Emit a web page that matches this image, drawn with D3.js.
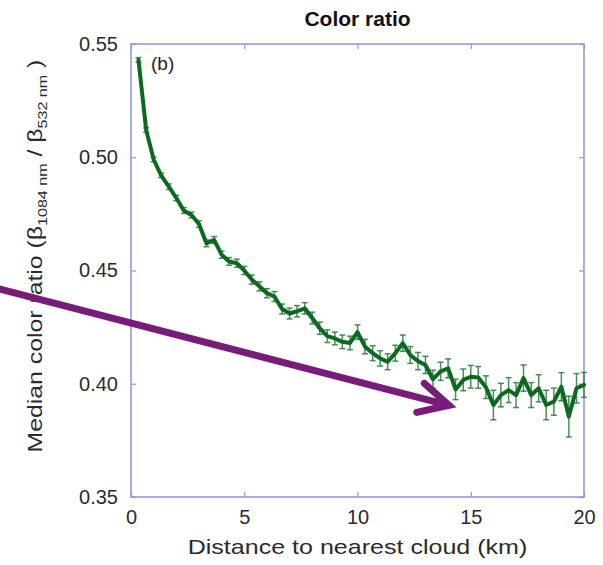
<!DOCTYPE html>
<html><head><meta charset="utf-8">
<script src="https://cdn.jsdelivr.net/npm/d3@7/dist/d3.min.js"></script>
<style>body{margin:0;background:#fff}svg{display:block}</style>
</head><body>
<svg id="c" width="603" height="565"></svg>
<script>
// ---- data ----
const distance = [0.33,0.67,1.00,1.33,1.67,2.00,2.33,2.67,3.00,3.33,
  3.67,4.00,4.33,4.67,5.00,5.33,5.67,6.00,6.33,6.67,
  7.00,7.33,7.67,8.00,8.33,8.67,9.00,9.33,9.67,10.00,
  10.33,10.67,11.00,11.33,11.67,12.00,12.33,12.67,13.00,13.33,
  13.67,14.00,14.33,14.67,15.00,15.33,15.67,16.00,16.33,16.67,
  17.00,17.33,17.67,18.00,18.33,18.67,19.00,19.33,19.67,20.00];
const colorRatio = [0.543,0.512,0.499,0.492,0.487,0.482,0.4765,0.4745,0.4705,0.462,
  0.4635,0.457,0.454,0.4532,0.450,0.446,0.443,0.440,0.4385,0.433,
  0.431,0.432,0.4333,0.429,0.4245,0.421,0.420,0.4185,0.418,0.4228,
  0.4164,0.4135,0.4112,0.4097,0.4135,0.4179,0.4127,0.4100,0.4083,0.4020,
  0.4055,0.4068,0.3975,0.4017,0.4031,0.4028,0.3985,0.3906,0.3950,0.3972,
  0.3950,0.4025,0.3950,0.3980,0.3906,0.3921,0.3987,0.3855,0.3980,0.3995];
const errorHalf = [0.001,0.001,0.001,0.001,0.0012,0.0012,0.0013,0.0013,0.0014,0.0015,
  0.0015,0.0016,0.0017,0.0018,0.0018,0.002,0.002,0.002,0.0022,0.0022,
  0.0024,0.0025,0.0025,0.0026,0.0027,0.0028,0.0028,0.003,0.003,0.0032,
  0.0032,0.0033,0.0034,0.0035,0.0035,0.0036,0.0037,0.0038,0.0038,0.004,
  0.004,0.0042,0.0045,0.0048,0.005,0.0048,0.005,0.0065,0.0052,0.0055,
  0.0055,0.0058,0.0055,0.006,0.0065,0.006,0.0062,0.009,0.0065,0.0055];
const xTicks = [0,5,10,15,20];
const xTickLabels = ["0","5","10","15","20"];
const yTicks = [0.35,0.40,0.45,0.50,0.55];
const yTickLabels = ["0.35","0.40","0.45","0.50","0.55"];
const titleText = "Color ratio";
const xLabelText = "Distance to nearest cloud (km)";
const panelLabel = "(b)";
// annotation arrow in data coordinates [km, ratio]
const arrowFrom = [-5.78, 0.4418];
const arrowTo = [14.04, 0.3905];

// ---- layout ----
const L = 131, R = 584, T = 44, B = 497;
const FONT = "'Liberation Sans', Arial, Helvetica, sans-serif";
const frameColor = "#9393dd";
const svg = d3.select("#c");
const x = d3.scaleLinear().domain([0,20]).range([L,R]);
const y = d3.scaleLinear().domain([0.35,0.55]).range([B,T]);

// frame
svg.append("rect").attr("x",L).attr("y",T).attr("width",R-L).attr("height",B-T)
  .attr("fill","none").attr("stroke",frameColor).attr("stroke-width",1.5);

function styleAxis(g, showText){
  g.select(".domain").remove();
  g.selectAll(".tick line").attr("stroke",frameColor).attr("stroke-width",1.2);
  g.selectAll(".tick text").attr("fill","#2b2b2b").style("font-family",FONT).style("font-size","20px");
  if(!showText) g.selectAll(".tick text").remove();
}
const xb = svg.append("g").attr("transform",`translate(0,${B})`)
  .call(d3.axisBottom(x).tickValues(xTicks).tickFormat((d,i)=>xTickLabels[i]).tickSize(-5).tickPadding(13));
styleAxis(xb,true);
const xt = svg.append("g").attr("transform",`translate(0,${T})`)
  .call(d3.axisTop(x).tickValues(xTicks).tickSize(-5));
styleAxis(xt,false);
const yl = svg.append("g").attr("transform",`translate(${L},0)`)
  .call(d3.axisLeft(y).tickValues(yTicks).tickFormat((d,i)=>yTickLabels[i]).tickSize(-5).tickPadding(13));
styleAxis(yl,true);
const yr = svg.append("g").attr("transform",`translate(${R},0)`)
  .call(d3.axisRight(y).tickValues(yTicks).tickSize(-5));
styleAxis(yr,false);

// data
const pts = distance.map((d,i)=>({x:d, v:colorRatio[i], e:errorHalf[i]}));
const eb = svg.append("g").attr("stroke","#2a7a40").attr("stroke-opacity",0.85).attr("stroke-width",1.5);
pts.forEach(p=>{
  const px = x(p.x), y0 = y(p.v - p.e), y1 = y(p.v + p.e);
  eb.append("line").attr("x1",px).attr("x2",px).attr("y1",y0).attr("y2",y1);
  eb.append("line").attr("x1",px-3).attr("x2",px+3).attr("y1",y0).attr("y2",y0);
  eb.append("line").attr("x1",px-3).attr("x2",px+3).attr("y1",y1).attr("y2",y1);
});
svg.append("path").datum(pts)
  .attr("d", d3.line().x(p=>x(p.x)).y(p=>y(p.v)))
  .attr("fill","none").attr("stroke","#0b6a1f").attr("stroke-width",4)
  .attr("stroke-linejoin","round").attr("stroke-linecap","round");

// panel label
svg.append("text").attr("x",151).attr("y",70).text(panelLabel)
  .style("font-family",FONT).style("font-size","19px").attr("fill","#222");

// title
svg.append("text").attr("x",(L+R)/2).attr("y",26).attr("text-anchor","middle")
  .text(titleText).style("font-family",FONT).style("font-size","21px").style("font-weight","bold").attr("fill","#111");

// x label
const xlab = svg.append("text").attr("text-anchor","middle")
  .text(xLabelText).style("font-family",FONT).style("font-size","20px").attr("fill","#2b2b2b");
{
  const w = xlab.node().getComputedTextLength();
  const s = 340 / w;
  xlab.attr("transform",`translate(${(L+R)/2},554) scale(${s},1)`);
}

// y label
const ylab = svg.append("text").attr("text-anchor","middle")
  .style("font-family",FONT).style("font-size","20px").attr("fill","#2b2b2b");
ylab.append("tspan").text("Median color ratio (\u03B2");
ylab.append("tspan").attr("dy",5).style("font-size","13px").text("1084 nm");
ylab.append("tspan").attr("dy",-5).text(" / \u03B2");
ylab.append("tspan").attr("dy",5).style("font-size","13px").text("532 nm");
ylab.append("tspan").attr("dy",-5).text(" )");
{
  const w = ylab.node().getBBox().width;
  const s = 393 / w;
  ylab.attr("transform",`translate(42,256) rotate(-90) scale(${s},1)`);
}

// annotation arrow
const ax0 = x(arrowFrom[0]), ay0 = y(arrowFrom[1]);
const ax1 = x(arrowTo[0]), ay1 = y(arrowTo[1]);
const ang = Math.atan2(ay1-ay0, ax1-ax0);
const hl = 33, ha = 27*Math.PI/180;
const arrowColor = "#771c79";
svg.append("line").attr("x1",ax0).attr("y1",ay0).attr("x2",ax1).attr("y2",ay1)
  .attr("stroke",arrowColor).attr("stroke-width",7).attr("stroke-linecap","round");
svg.append("path")
  .attr("d",`M${ax1-hl*Math.cos(ang-ha)},${ay1-hl*Math.sin(ang-ha)} L${ax1},${ay1} L${ax1-hl*Math.cos(ang+ha)},${ay1-hl*Math.sin(ang+ha)}`)
  .attr("fill","none").attr("stroke",arrowColor).attr("stroke-width",7)
  .attr("stroke-linecap","round").attr("stroke-linejoin","miter");
</script>
</body></html>
